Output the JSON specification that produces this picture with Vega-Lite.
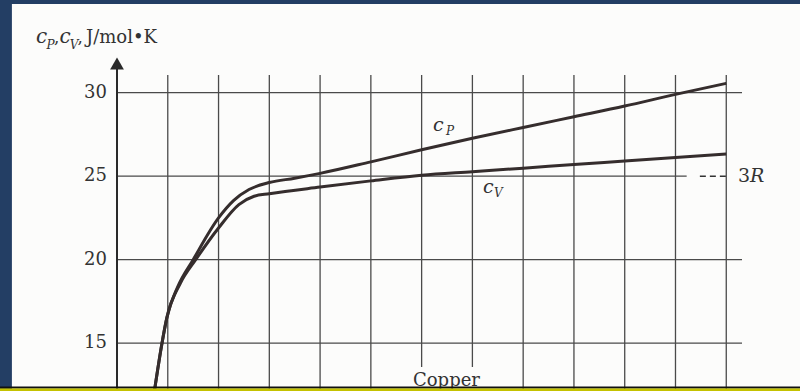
{
  "$schema": "https://vega.github.io/schema/vega-lite/v6.json",
  "width": 625,
  "height": 311,
  "autosize": "none",
  "padding": {"left": 117, "top": 75, "right": 58, "bottom": 5},
  "background": "#233e64",
  "config": {"view": {"stroke": null}},
  "data": {"values": [{}]},
  "datasets": {
    "heat": [
      {"s": "cP", "x": 0.74, "v": 12.2},
      {"s": "cP", "x": 0.886, "v": 15.0},
      {"s": "cP", "x": 0.98, "v": 16.5},
      {"s": "cP", "x": 1.2, "v": 18.4},
      {"s": "cP", "x": 1.5, "v": 20.0},
      {"s": "cP", "x": 2.0, "v": 22.5},
      {"s": "cP", "x": 2.3, "v": 23.55},
      {"s": "cP", "x": 2.6, "v": 24.2},
      {"s": "cP", "x": 3.0, "v": 24.62},
      {"s": "cP", "x": 3.5, "v": 24.88},
      {"s": "cP", "x": 4.0, "v": 25.17},
      {"s": "cP", "x": 5.0, "v": 25.86},
      {"s": "cP", "x": 6.0, "v": 26.58},
      {"s": "cP", "x": 7.0, "v": 27.27},
      {"s": "cP", "x": 8.0, "v": 27.92},
      {"s": "cP", "x": 9.0, "v": 28.56},
      {"s": "cP", "x": 10.0, "v": 29.2},
      {"s": "cP", "x": 11.0, "v": 29.9},
      {"s": "cP", "x": 12.0, "v": 30.56},
      {"s": "cV", "x": 0.74, "v": 12.2},
      {"s": "cV", "x": 0.886, "v": 15.0},
      {"s": "cV", "x": 0.98, "v": 16.5},
      {"s": "cV", "x": 1.25, "v": 18.6},
      {"s": "cV", "x": 1.55, "v": 20.0},
      {"s": "cV", "x": 2.0, "v": 21.9},
      {"s": "cV", "x": 2.4, "v": 23.3},
      {"s": "cV", "x": 2.7, "v": 23.8},
      {"s": "cV", "x": 3.0, "v": 23.95},
      {"s": "cV", "x": 4.0, "v": 24.35},
      {"s": "cV", "x": 5.0, "v": 24.72},
      {"s": "cV", "x": 6.0, "v": 25.06},
      {"s": "cV", "x": 7.0, "v": 25.27},
      {"s": "cV", "x": 8.0, "v": 25.48},
      {"s": "cV", "x": 9.0, "v": 25.7},
      {"s": "cV", "x": 10.0, "v": 25.91},
      {"s": "cV", "x": 11.0, "v": 26.12},
      {"s": "cV", "x": 12.0, "v": 26.33}
    ],
    "gridX": [
      {"t": 1}, {"t": 2}, {"t": 3}, {"t": 4}, {"t": 5}, {"t": 6},
      {"t": 7}, {"t": 8}, {"t": 9}, {"t": 10}, {"t": 11}, {"t": 12}
    ],
    "levels": [{"v": 15}, {"v": 20}, {"v": 25}, {"v": 30}]
  },
  "layer": [
    {
      "mark": {"type": "rect", "fill": "#fcfcfb"},
      "encoding": {
        "x": {"datum": -2.07, "type": "quantitative", "scale": {"domain": [0, 12.31], "nice": false, "zero": false}, "axis": null},
        "x2": {"datum": 13.6},
        "y": {"datum": 12.0, "type": "quantitative", "scale": {"domain": [12.437, 31.06], "nice": false, "zero": false}, "axis": null},
        "y2": {"datum": 35.31}
      }
    },
    {
      "data": {"name": "gridX"},
      "mark": {"type": "rule", "color": "#4a4a4a", "strokeWidth": 1.3},
      "encoding": {
        "x": {"field": "t", "type": "quantitative", "axis": null},
        "y": {"datum": 12.0, "type": "quantitative", "axis": null},
        "y2": {"datum": 31.06}
      }
    },
    {
      "data": {"name": "levels"},
      "transform": [{"filter": "datum.v != 25"}],
      "mark": {"type": "rule", "color": "#4a4a4a", "strokeWidth": 1.3},
      "encoding": {
        "y": {"field": "v", "type": "quantitative", "axis": null},
        "x": {"datum": 0, "type": "quantitative", "axis": null},
        "x2": {"datum": 12.31}
      }
    },
    {
      "mark": {"type": "rule", "color": "#4a4a4a", "strokeWidth": 1.3},
      "encoding": {
        "y": {"datum": 25, "type": "quantitative", "axis": null},
        "x": {"datum": 0, "type": "quantitative", "axis": null},
        "x2": {"datum": 11.22}
      }
    },
    {
      "mark": {"type": "rule", "color": "#333333", "strokeWidth": 1.4, "strokeDash": [6, 4]},
      "encoding": {
        "y": {"datum": 25, "type": "quantitative", "axis": null},
        "x": {"datum": 11.48, "type": "quantitative", "axis": null},
        "x2": {"datum": 12.0}
      }
    },
    {
      "mark": {"type": "rect", "fill": "#fcfcfb"},
      "encoding": {
        "x": {"datum": 5.75, "type": "quantitative", "axis": null},
        "x2": {"datum": 7.12},
        "y": {"datum": 12.0, "type": "quantitative", "axis": null},
        "y2": {"datum": 13.58}
      }
    },
    {
      "mark": {"type": "rule", "color": "#2a2a2a", "strokeWidth": 2},
      "encoding": {
        "x": {"datum": 0, "type": "quantitative", "axis": null},
        "y": {"datum": 12.0, "type": "quantitative", "axis": null},
        "y2": {"datum": 31.6}
      }
    },
    {
      "mark": {"type": "point", "shape": "triangle-up", "size": 190, "filled": true, "color": "#2a2a2a", "opacity": 1},
      "encoding": {
        "x": {"datum": 0, "type": "quantitative", "axis": null},
        "y": {"datum": 31.75, "type": "quantitative", "axis": null}
      }
    },
    {
      "data": {"name": "levels"},
      "mark": {"type": "text", "font": "DejaVu Serif", "fontSize": 18, "align": "right", "baseline": "middle", "dx": -10, "color": "#333333"},
      "encoding": {
        "y": {"field": "v", "type": "quantitative", "axis": null},
        "x": {"datum": 0, "type": "quantitative", "axis": null},
        "text": {"field": "v", "type": "quantitative"}
      }
    },
    {
      "data": {"name": "heat"},
      "mark": {"type": "line", "interpolate": "monotone", "strokeWidth": 3, "color": "#352d2d"},
      "encoding": {
        "x": {"field": "x", "type": "quantitative", "axis": null},
        "y": {"field": "v", "type": "quantitative", "axis": null},
        "detail": {"field": "s"}
      }
    },
    {
      "mark": {"type": "text", "text": "c", "font": "DejaVu Serif", "fontStyle": "italic", "fontSize": 20, "align": "left", "baseline": "alphabetic", "color": "#333333"},
      "encoding": {"x": {"datum": -1.595, "type": "quantitative", "axis": null}, "y": {"datum": 32.98, "type": "quantitative", "axis": null}}
    },
    {
      "mark": {"type": "text", "text": "P", "font": "DejaVu Serif", "fontStyle": "italic", "fontSize": 12, "align": "left", "baseline": "alphabetic", "color": "#333333"},
      "encoding": {"x": {"datum": -1.39, "type": "quantitative", "axis": null}, "y": {"datum": 32.62, "type": "quantitative", "axis": null}}
    },
    {
      "mark": {"type": "text", "text": ",", "font": "DejaVu Serif", "fontSize": 17, "align": "left", "baseline": "alphabetic", "color": "#333333"},
      "encoding": {"x": {"datum": -1.24, "type": "quantitative", "axis": null}, "y": {"datum": 32.98, "type": "quantitative", "axis": null}}
    },
    {
      "mark": {"type": "text", "text": "c", "font": "DejaVu Serif", "fontStyle": "italic", "fontSize": 20, "align": "left", "baseline": "alphabetic", "color": "#333333"},
      "encoding": {"x": {"datum": -1.132, "type": "quantitative", "axis": null}, "y": {"datum": 32.98, "type": "quantitative", "axis": null}}
    },
    {
      "mark": {"type": "text", "text": "V", "font": "DejaVu Serif", "fontStyle": "italic", "fontSize": 12, "align": "left", "baseline": "alphabetic", "color": "#333333"},
      "encoding": {"x": {"datum": -0.93, "type": "quantitative", "axis": null}, "y": {"datum": 32.62, "type": "quantitative", "axis": null}}
    },
    {
      "mark": {"type": "text", "text": ",", "font": "DejaVu Serif", "fontSize": 17, "align": "left", "baseline": "alphabetic", "color": "#333333"},
      "encoding": {"x": {"datum": -0.78, "type": "quantitative", "axis": null}, "y": {"datum": 32.98, "type": "quantitative", "axis": null}}
    },
    {
      "mark": {"type": "text", "text": "J/mol•K", "font": "DejaVu Serif", "fontSize": 18, "align": "left", "baseline": "alphabetic", "color": "#333333"},
      "encoding": {"x": {"datum": -0.611, "type": "quantitative", "axis": null}, "y": {"datum": 32.98, "type": "quantitative", "axis": null}}
    },
    {
      "mark": {"type": "text", "text": "c", "font": "DejaVu Serif", "fontStyle": "italic", "fontSize": 19, "align": "left", "baseline": "alphabetic", "color": "#333333"},
      "encoding": {"x": {"datum": 6.224, "type": "quantitative", "axis": null}, "y": {"datum": 27.68, "type": "quantitative", "axis": null}}
    },
    {
      "mark": {"type": "text", "text": "P", "font": "DejaVu Serif", "fontStyle": "italic", "fontSize": 12, "align": "left", "baseline": "alphabetic", "color": "#333333"},
      "encoding": {"x": {"datum": 6.48, "type": "quantitative", "axis": null}, "y": {"datum": 27.47, "type": "quantitative", "axis": null}}
    },
    {
      "mark": {"type": "text", "text": "c", "font": "DejaVu Serif", "fontStyle": "italic", "fontSize": 19, "align": "left", "baseline": "alphabetic", "color": "#333333"},
      "encoding": {"x": {"datum": 7.209, "type": "quantitative", "axis": null}, "y": {"datum": 23.99, "type": "quantitative", "axis": null}}
    },
    {
      "mark": {"type": "text", "text": "V", "font": "DejaVu Serif", "fontStyle": "italic", "fontSize": 12, "align": "left", "baseline": "alphabetic", "color": "#333333"},
      "encoding": {"x": {"datum": 7.426, "type": "quantitative", "axis": null}, "y": {"datum": 23.75, "type": "quantitative", "axis": null}}
    },
    {
      "mark": {"type": "text", "text": "3", "font": "DejaVu Serif", "fontSize": 19, "align": "left", "baseline": "alphabetic", "color": "#333333"},
      "encoding": {"x": {"datum": 12.23, "type": "quantitative", "axis": null}, "y": {"datum": 24.65, "type": "quantitative", "axis": null}}
    },
    {
      "mark": {"type": "text", "text": "R", "font": "DejaVu Serif", "fontStyle": "italic", "fontSize": 19, "align": "left", "baseline": "alphabetic", "color": "#333333"},
      "encoding": {"x": {"datum": 12.47, "type": "quantitative", "axis": null}, "y": {"datum": 24.65, "type": "quantitative", "axis": null}}
    },
    {
      "mark": {"type": "text", "text": "Copper", "font": "DejaVu Serif", "fontSize": 18, "align": "left", "baseline": "alphabetic", "color": "#333333"},
      "encoding": {"x": {"datum": 5.83, "type": "quantitative", "axis": null}, "y": {"datum": 12.437, "type": "quantitative", "axis": null}}
    },
    {
      "mark": {"type": "rect", "fill": "#c4c200"},
      "encoding": {
        "x": {"datum": -2.6, "type": "quantitative", "axis": null},
        "x2": {"datum": 14.0},
        "y": {"datum": 11.5, "type": "quantitative", "axis": null},
        "y2": {"datum": 12.3}
      }
    },
    {
      "mark": {"type": "rect", "fill": "#111111"},
      "encoding": {
        "x": {"datum": -2.6, "type": "quantitative", "axis": null},
        "x2": {"datum": 14.0},
        "y": {"datum": 12.3, "type": "quantitative", "axis": null},
        "y2": {"datum": 12.407}
      }
    }
  ]
}
